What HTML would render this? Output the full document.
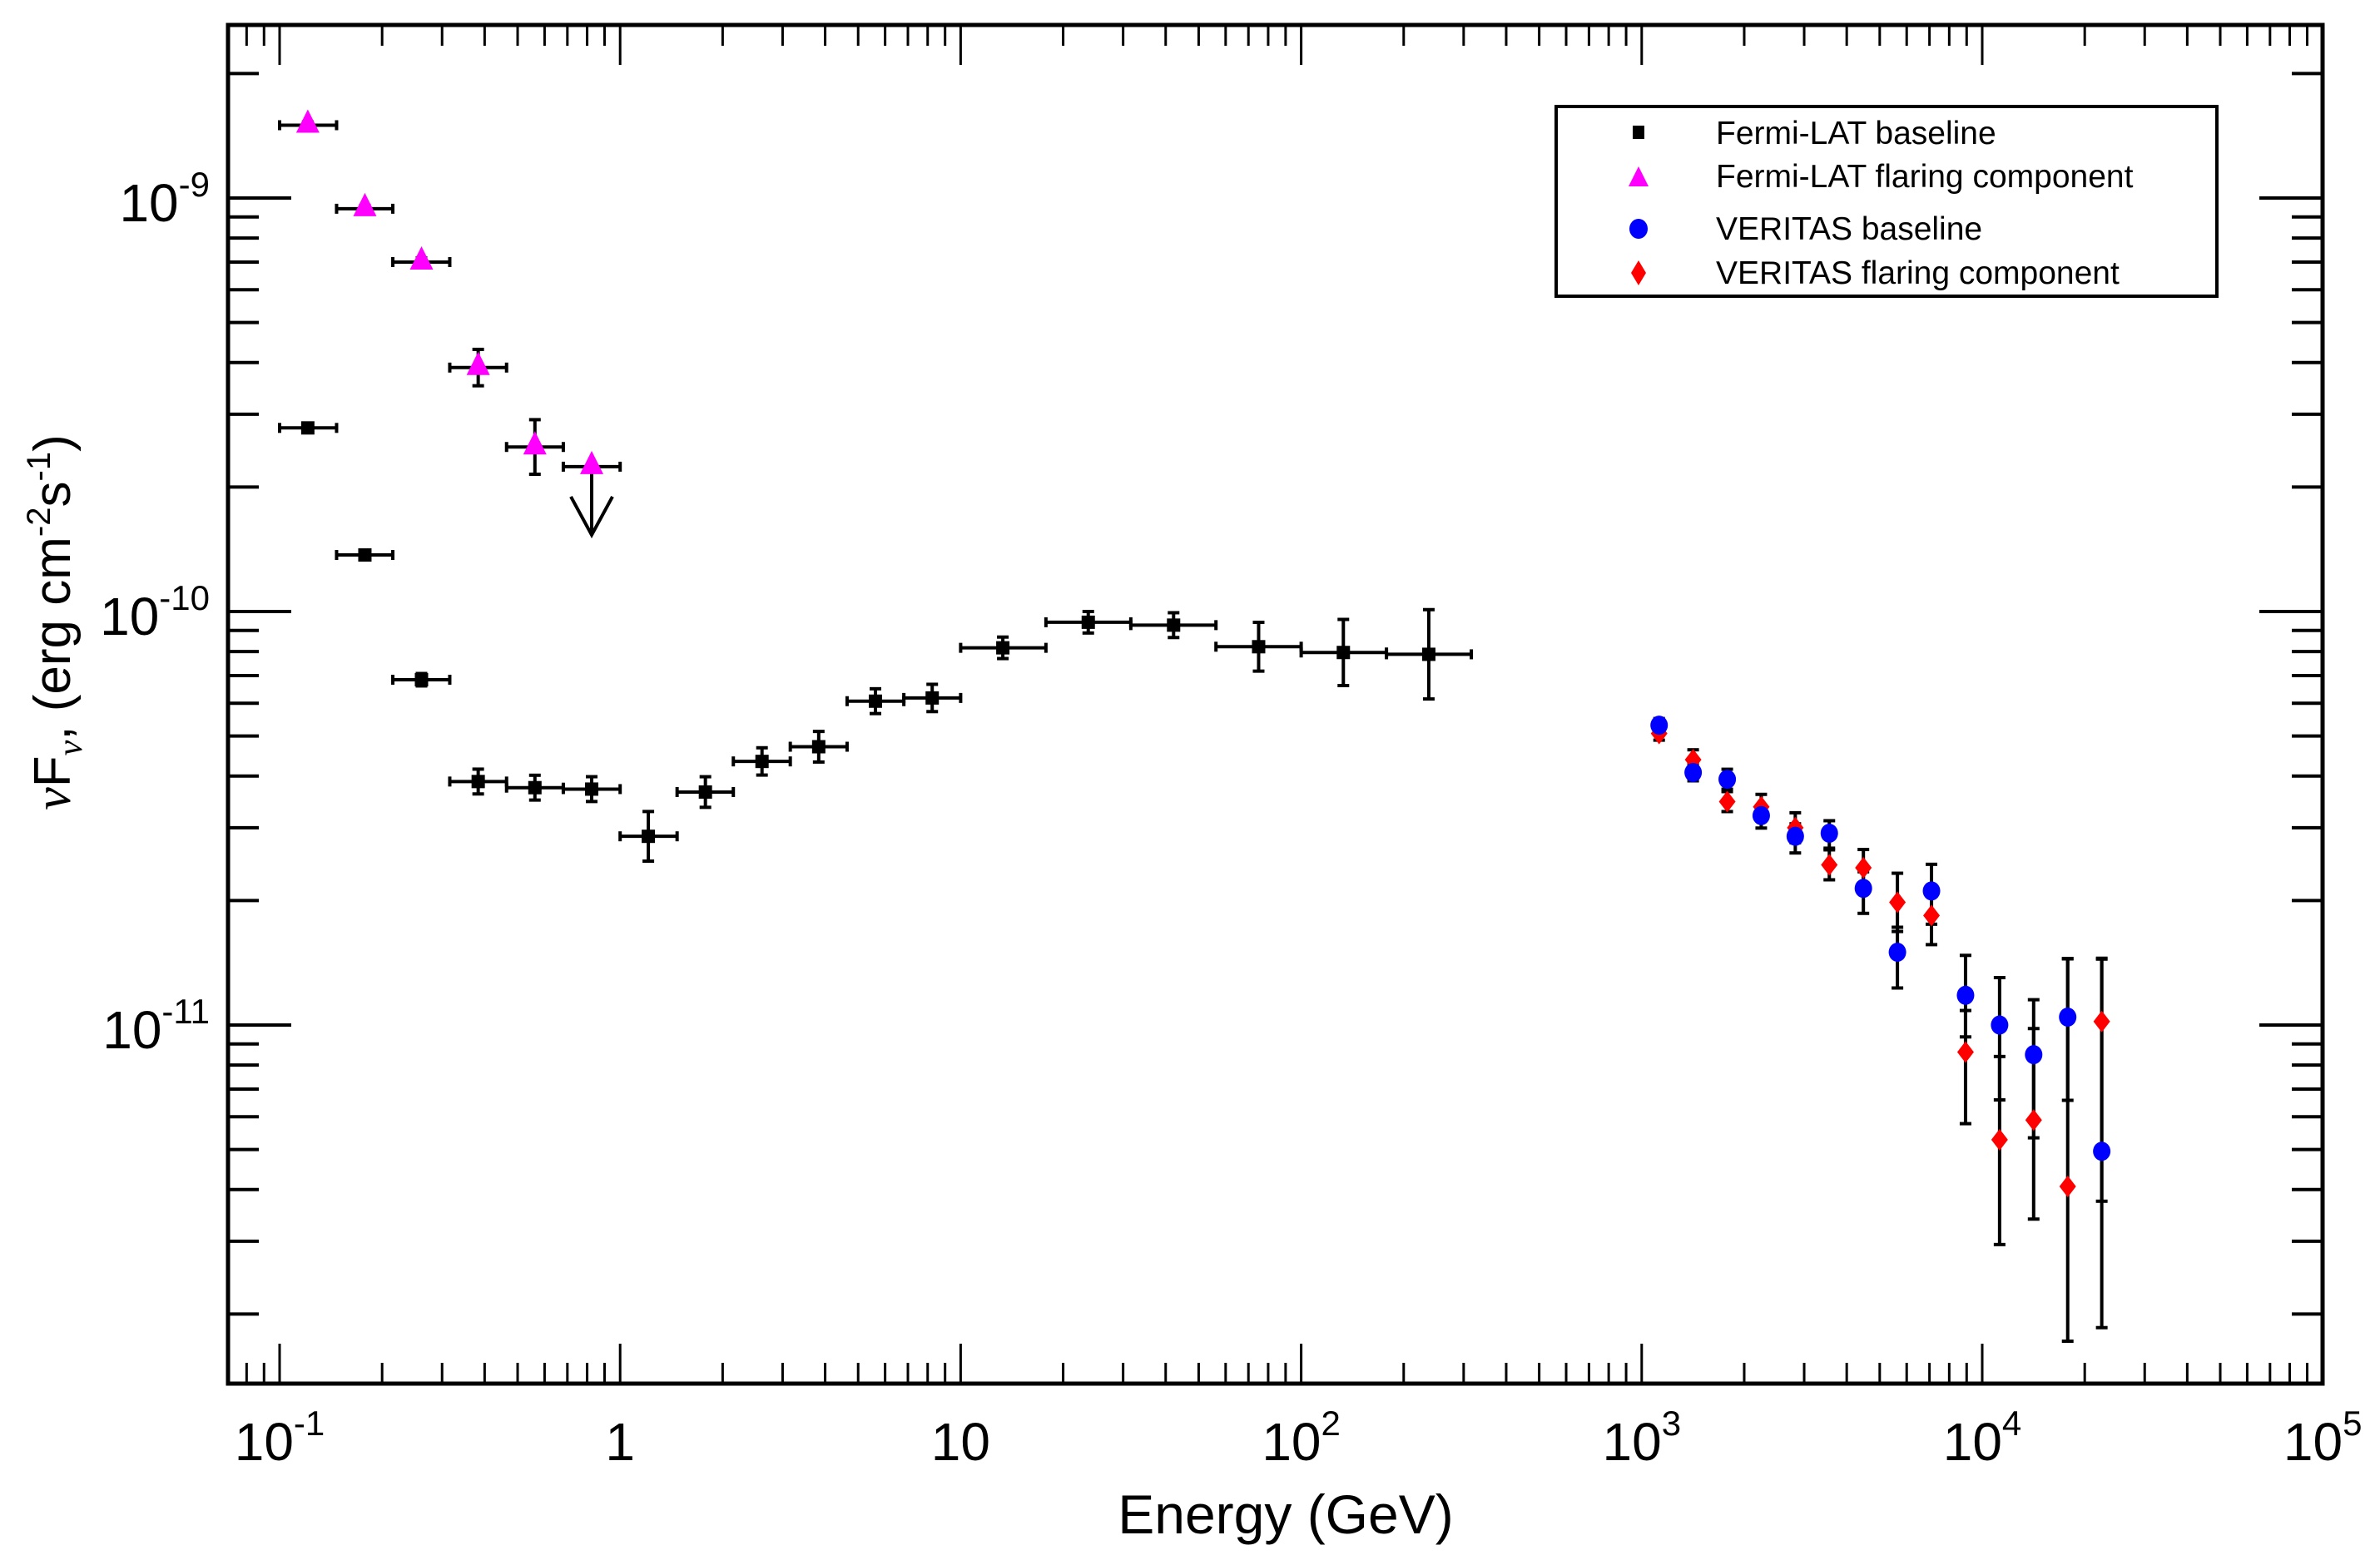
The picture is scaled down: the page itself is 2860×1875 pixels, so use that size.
<!DOCTYPE html>
<html><head><meta charset="utf-8"><style>
html,body{margin:0;padding:0;background:#fff}
svg{display:block;font-family:"Liberation Sans",Arial,sans-serif}
</style></head><body>
<svg id="chart" width="2860" height="1875" viewBox="0 0 2860 1875" xmlns="http://www.w3.org/2000/svg">
<rect x="0" y="0" width="2860" height="1875" fill="#fff"/>
<g id="ticks"></g>
<g id="labels"></g>
<g id="marks"></g>
<rect x="274" y="30" width="2517" height="1633" fill="none" stroke="#000" stroke-width="5"/>
<text x="1545" y="1843" font-size="66" text-anchor="middle">Energy (GeV)</text>
<text transform="translate(84,748) rotate(-90)" font-size="62" text-anchor="middle"><tspan font-family="Liberation Serif,serif" font-style="italic">ν</tspan>F<tspan font-size="42" dy="14" font-family="Liberation Serif,serif" font-style="italic">ν</tspan><tspan dy="-14">, (erg cm</tspan><tspan font-size="40" dy="-24">-2</tspan><tspan dy="24">s</tspan><tspan font-size="40" dy="-24">-1</tspan><tspan dy="24">)</tspan></text>
<g>
<rect x="1870" y="128" width="794" height="228" fill="#fff" stroke="#000" stroke-width="4"/>
<rect x="1962" y="151" width="14" height="16" fill="#000"/>
<text x="2062" y="173" font-size="39">Fermi-LAT baseline</text>
<polygon points="1969,200 1981,224 1957,224" fill="#f0f"/>
<text x="2062" y="225" font-size="39">Fermi-LAT flaring component</text>
<ellipse cx="1969" cy="275" rx="11" ry="12" fill="#00f"/>
<text x="2062" y="288" font-size="39">VERITAS baseline</text>
<polygon points="1969,313 1978,328 1969,343 1960,328" fill="#f00"/>
<text x="2062" y="341" font-size="39">VERITAS flaring component</text>
</g>
</svg>
<script>
// ---- data ----
const fermiE  = [0.121,0.178,0.261,0.383,0.562,0.825,1.21,1.78,2.61,3.83,5.62,8.25,13.3,23.7,42.2,75,133,237];
const fermiLo = [0.1,0.147,0.215,0.316,0.464,0.681,1,1.47,2.15,3.16,4.64,6.81,10,17.8,31.6,56.2,100,178];
const fermiHi = [0.147,0.215,0.316,0.464,0.681,1,1.47,2.15,3.16,4.64,6.81,10,17.8,31.6,56.2,100,178,316];
const fermiBase = [2.78e-10,1.37e-10,6.84e-11,3.88e-11,3.75e-11,3.72e-11,2.86e-11,3.66e-11,4.34e-11,4.71e-11,6.07e-11,6.18e-11,8.17e-11,9.42e-11,9.27e-11,8.22e-11,7.96e-11,7.88e-11];
const fermiBaseErr = [0.007,0.007,0.015,0.03,0.03,0.03,0.06,0.037,0.033,0.037,0.03,0.033,0.026,0.026,0.03,0.059,0.08,0.108];
const flareE = [0.121,0.178,0.261,0.383,0.562,0.825];
const flareLo = [0.1,0.147,0.215,0.316,0.464,0.681];
const flareHi = [0.147,0.215,0.316,0.464,0.681,1];
const fermiFlare = [1.50e-9,9.42e-10,7.0e-10,3.89e-10,2.5e-10,2.24e-10];
const fermiFlareErr = [0.008,0.008,0.01,0.044,0.066,0];
const flareUL = [false,false,false,false,false,true];
const verE = [1125,1416,1783,2244,2825,3556,4477,5636,7096,8933,11246,14158,17824,22439];
const verBase = [5.31e-11,4.08e-11,3.93e-11,3.21e-11,2.86e-11,2.91e-11,2.14e-11,1.50e-11,2.11e-11,1.18e-11,1.0e-11,8.48e-12,1.045e-11,4.95e-12];
const verBaseUp = [8,10,12,12,15,15,20,30,32,48,57,66,70,231];
const verBaseDn = [8,10,12,15,20,18,30,43,40,50,90,100,100,60];
const verFlare = [5.07e-11,4.38e-11,3.47e-11,3.37e-11,3.0e-11,2.44e-11,2.40e-11,1.98e-11,1.84e-11,8.6e-12,5.28e-12,5.89e-12,4.07e-12,1.02e-11];
const verFlareUp = [8,12,12,15,18,18,22,35,35,50,100,110,274,76];
const verFlareDn = [8,12,12,15,18,18,22,35,35,86,126,119,186,368];
const xTickLabels = ["10","1","10","10","10","10","10"];
const xTickExps = ["-1","","","2","3","4","5"];
const yTickExps = ["-9","-10","-11"];

// ---- axes ----
const X0=274,X1=2791,Y0=30,Y1=1663;
const xDec=409.2;
function xs(e){return 336+(Math.log10(e)+1)*xDec;}
function ys(f){return 238+(-9-Math.log10(f))*497;}
const NS="http://www.w3.org/2000/svg";
function mk(tag,attrs,parent){const el=document.createElementNS(NS,tag);for(const k in attrs)el.setAttribute(k,attrs[k]);parent.appendChild(el);return el;}
const T=document.getElementById('ticks'),L=document.getElementById('labels'),M=document.getElementById('marks');

for(let d=-2;d<=4;d++){for(let m=1;m<=9;m++){const e=m*Math.pow(10,d);const x=xs(e);if(x<X0+2||x>X1-2)continue;const len=m===1?48:25;
 const t1=mk('line',{x1:x,x2:x,y1:Y1,y2:Y1-len,stroke:'#000','stroke-width':3},T);
 
 
 const t2=mk('line',{x1:x,x2:x,y1:Y0,y2:Y0+len,stroke:'#000','stroke-width':3},T);
 
 }}
for(let d=-12;d<=-9;d++){for(let m=1;m<=9;m++){const f=m*Math.pow(10,d);const y=ys(f);if(y<Y0+2||y>Y1-2)continue;const len=m===1?76:37;
 const t1=mk('line',{x1:X0,x2:X0+len,y1:y,y2:y,stroke:'#000','stroke-width':4},T);
 
 
 const t2=mk('line',{x1:X1,x2:X1-len,y1:y,y2:y,stroke:'#000','stroke-width':4},T);
 
 }}
for(let i=0;i<7;i++){const x=xs(Math.pow(10,i-1));
 const t=mk('text',{x:x,y:1755,'font-size':64,'text-anchor':'middle'},L);
 
 
 if(xTickExps[i]===''){t.textContent=xTickLabels[i];}
 else{const a=mk('tspan',{},t);a.textContent=xTickLabels[i];const b=mk('tspan',{'font-size':42,dy:-30},t);b.textContent=xTickExps[i];}}
for(let i=0;i<3;i++){const y=ys(Math.pow(10,-9-i));
 const t=mk('text',{x:252,y:y+28,'font-size':64,'text-anchor':'end'},L);
 
 
 const a=mk('tspan',{},t);a.textContent='10';const b=mk('tspan',{'font-size':42,dy:-30},t);b.textContent=yTickExps[i];}

function vbar(x,yt,yb){const g=mk('g',{stroke:'#000','stroke-width':4},M);
 
 
 mk('line',{x1:x,x2:x,y1:yt,y2:yb},g);mk('line',{x1:x-7,x2:x+7,y1:yt,y2:yt},g);mk('line',{x1:x-7,x2:x+7,y1:yb,y2:yb},g);}
function hbar(xl,xr,y){const g=mk('g',{stroke:'#000','stroke-width':4},M);
 
 
 mk('line',{x1:xl,x2:xr,y1:y,y2:y},g);mk('line',{x1:xl,x2:xl,y1:y-6,y2:y+6},g);mk('line',{x1:xr,x2:xr,y1:y-6,y2:y+6},g);}
for(let i=0;i<fermiE.length;i++){const x=xs(fermiE[i]),y=ys(fermiBase[i]);const dy=fermiBaseErr[i]*497;
 hbar(xs(fermiLo[i]),xs(fermiHi[i]),y);vbar(x,y-dy,y+dy);
 const r=mk('rect',{x:x-8,y:y-8,width:16,height:16,fill:'#000'},M);
 
 }
for(let i=0;i<flareE.length;i++){const x=xs(flareE[i]),y=ys(fermiFlare[i]);const dy=fermiFlareErr[i]*497;
 hbar(xs(flareLo[i]),xs(flareHi[i]),y);if(dy>0)vbar(x,y-dy,y+dy);
 if(flareUL[i]){const g=mk('g',{stroke:'#000','stroke-width':4,fill:'none'},M);
  
  
  mk('line',{x1:x,x2:x,y1:y,y2:y+82},g);mk('polyline',{points:`${x-25},${y+36} ${x},${y+82} ${x+25},${y+36}`},g);}
 const p=mk('polygon',{points:`${x},${y-19} ${x+14},${y+9} ${x-14},${y+9}`,fill:'#f0f'},M);
 
 }
for(let i=0;i<verE.length;i++){const x=xs(verE[i]);
 let y=ys(verBase[i]);vbar(x,y-verBaseUp[i],y+verBaseDn[i]);
 y=ys(verFlare[i]);vbar(x,y-verFlareUp[i],y+verFlareDn[i]);}
for(let i=0;i<verE.length;i++){const x=xs(verE[i]),y=ys(verFlare[i]);
 const p=mk('polygon',{points:`${x},${y-13} ${x+10},${y} ${x},${y+13} ${x-10},${y}`,fill:'#f00'},M);
 
 }
for(let i=0;i<verE.length;i++){const x=xs(verE[i]),y=ys(verBase[i]);
 const c=mk('ellipse',{cx:x,cy:y,rx:10.5,ry:11.5,fill:'#00f'},M);
 
 }
</script>
</body></html>
